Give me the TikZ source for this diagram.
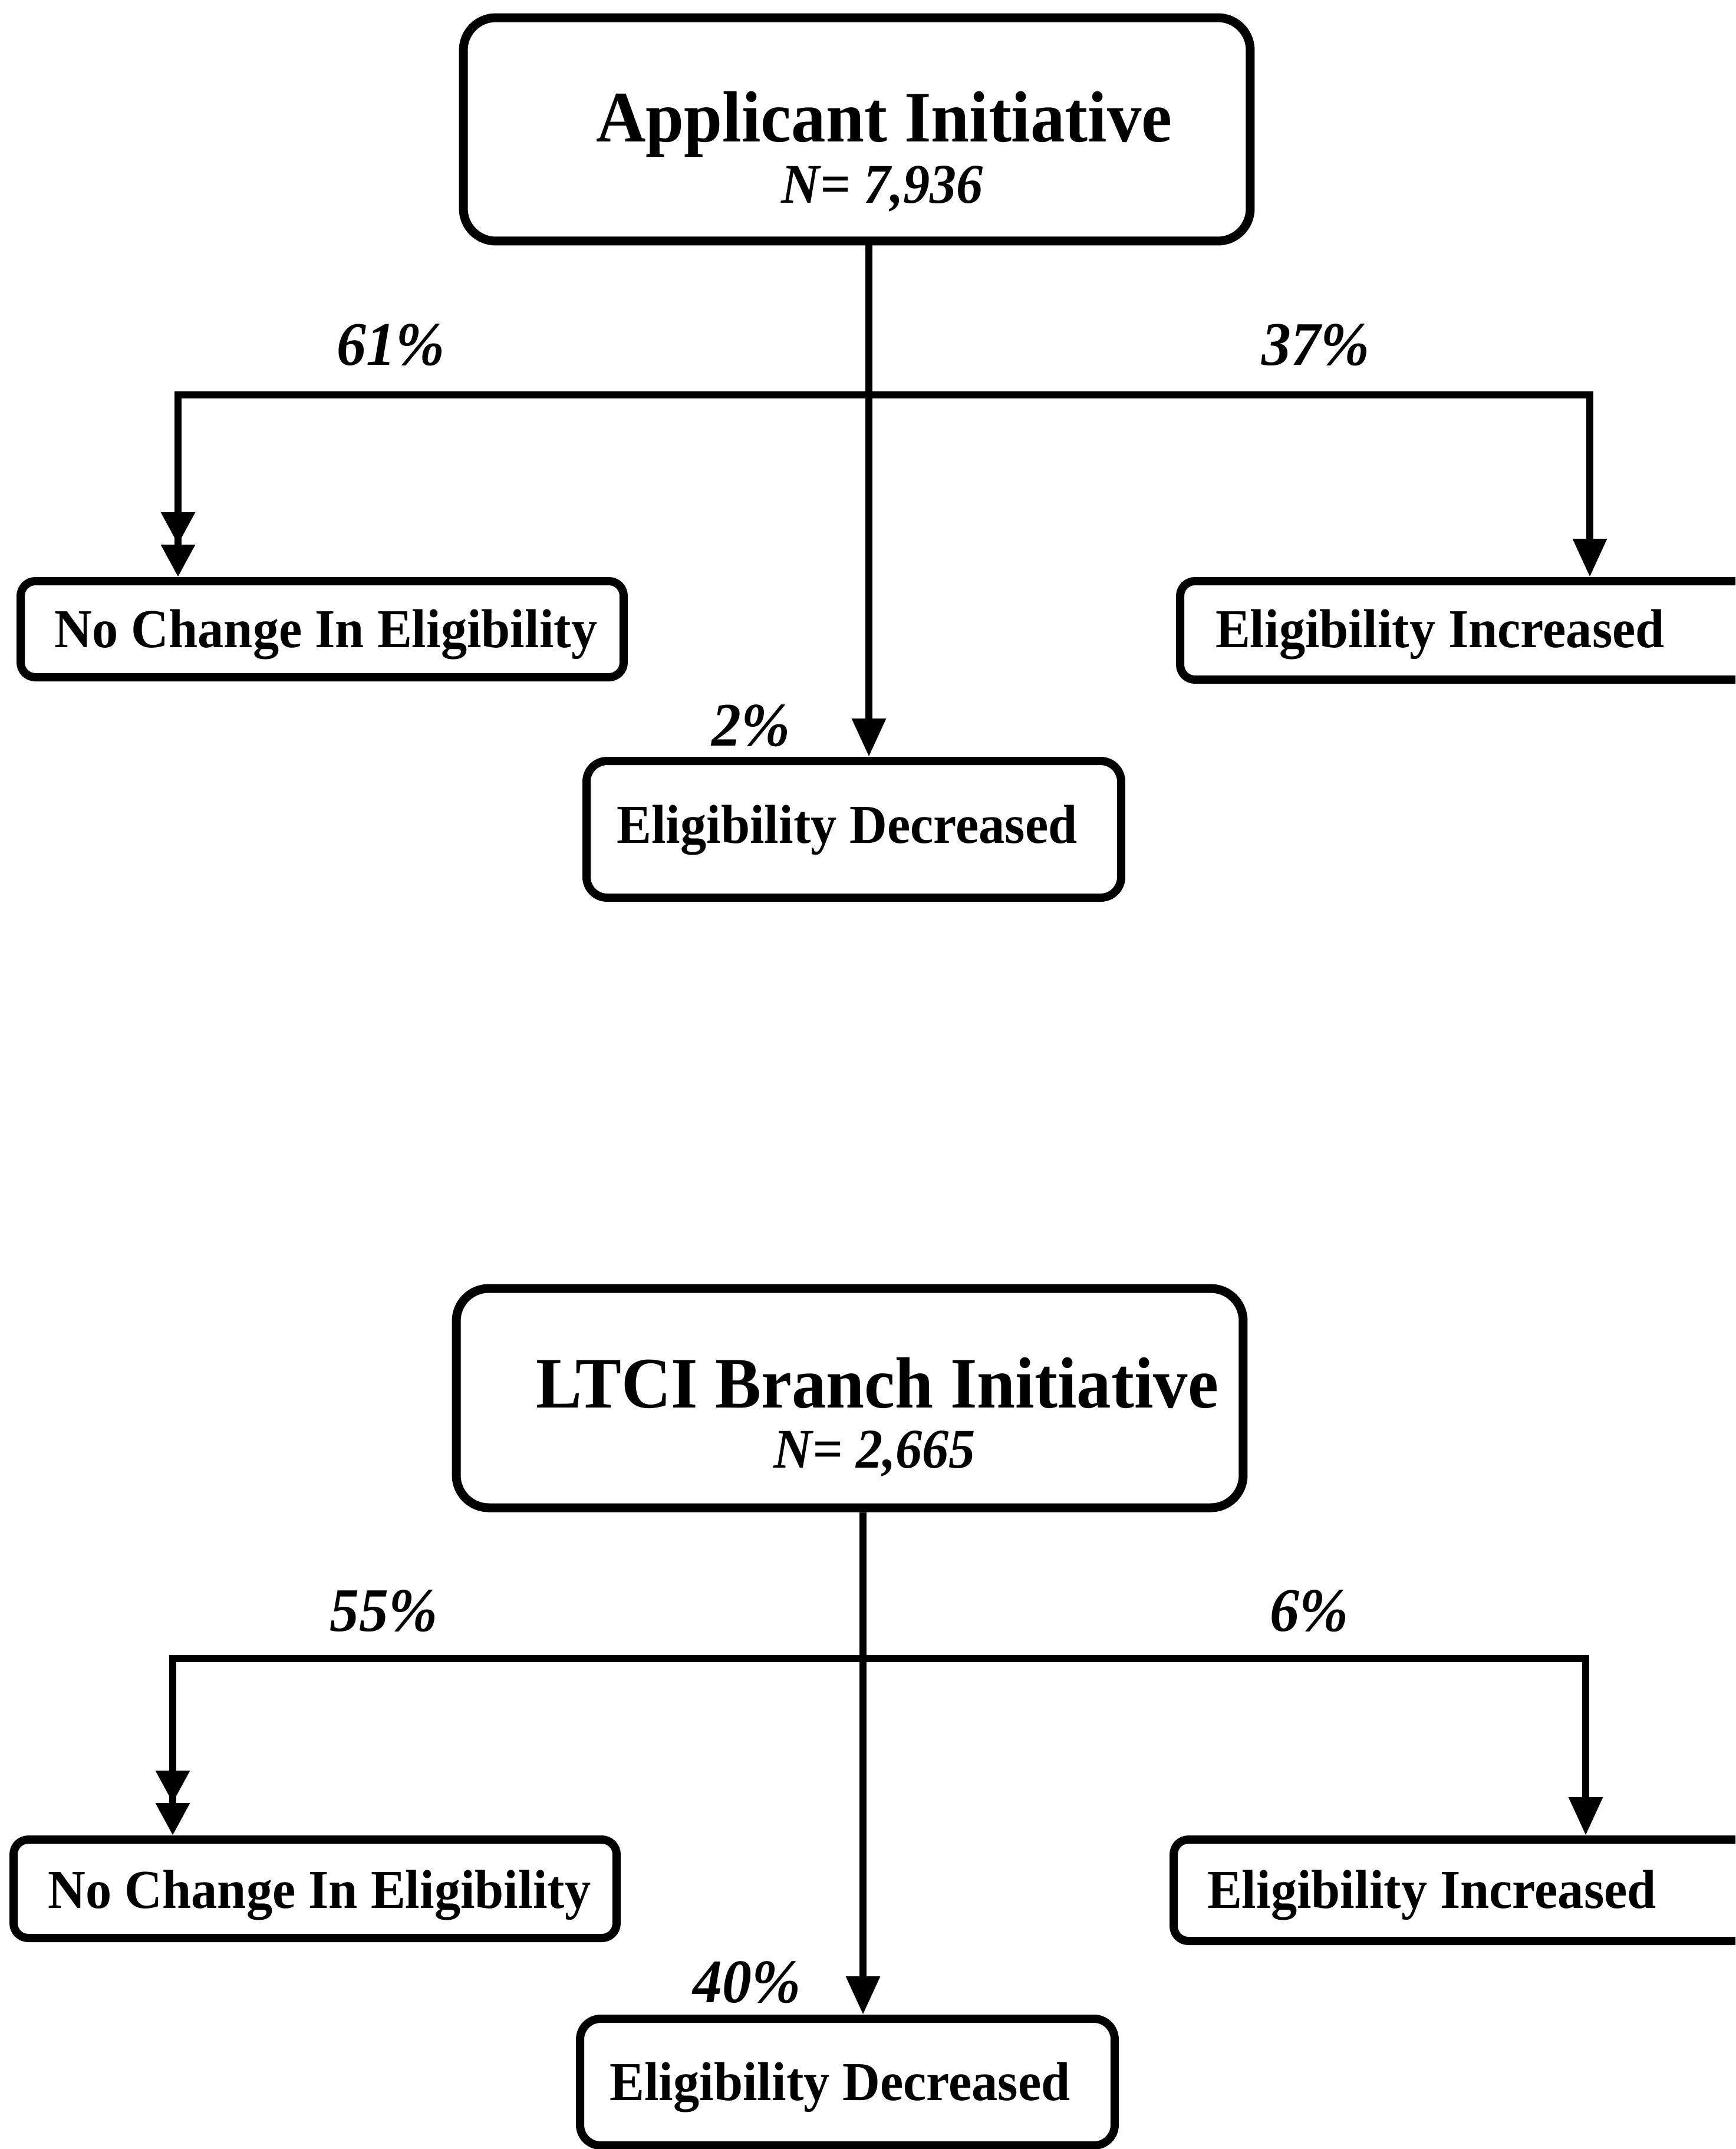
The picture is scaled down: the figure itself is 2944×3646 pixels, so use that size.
\documentclass[tikz,border=0pt]{standalone}
\usepackage{fontspec}
\setmainfont{Liberation Serif}[FakeStretch=0.95]
\usetikzlibrary{arrows.meta}
\begin{document}
\begin{tikzpicture}[x=0.1pt,y=-0.1pt,
  bigbox/.style={draw, line width=1.5pt, rounded corners=5.5pt, inner sep=0pt},
  smallbox/.style={draw, line width=1.4pt, rounded corners=2.5pt, inner sep=0pt},
  midbox/.style={draw, line width=1.4pt, rounded corners=3.5pt, inner sep=0pt},
  title/.style={font=\fontsize{12.3}{14}\selectfont\bfseries, anchor=base, inner sep=0pt},
  ntext/.style={font=\fontsize{9.5}{11}\selectfont\bfseries\itshape, anchor=base, inner sep=0pt},
  btext/.style={font=\fontsize{9.3}{11}\selectfont\bfseries, anchor=base, inner sep=0pt},
  pct/.style={font=\fontsize{10.5}{12}\selectfont\bfseries\itshape, anchor=base, inner sep=0pt},
  conn/.style={line width=1.25pt},
  tip/.style={-{Triangle[width=5.5pt,length=6.5pt]}},
  dtip/.style={-{Triangle[width=5.5pt,length=5.5pt] Triangle[width=5.5pt,length=5.5pt]}}
]
\path[use as bounding box] (0,0) rectangle (2944,3646);
\fill[white] (0,0) rectangle (2944,3646);
\clip (0,0) rectangle (2944,3646);

% ---------- top section ----------
\node[bigbox, minimum width=133.5pt, minimum height=37.9pt] (box1) at (1453.5,219.5) {};
\node[title] (t1) at (1500,240) {Applicant Initiative};
\node[ntext] (n1) at (1497,344) {N= 7,936};

\node[smallbox, minimum width=102.3pt, minimum height=16.3pt] (nc1) at (546.5,1067.5) {};
\node[btext] (nc1t) at (553,1098) {No Change In Eligibility};
\node[smallbox, minimum width=104.8pt, minimum height=16.7pt] (ei1) at (2526,1069.5) {};
\node[btext, anchor=base west] (ei1t) at (2060,1098) {Eligibility Increased};
\node[midbox, minimum width=90.7pt, minimum height=23.2pt] (ed1) at (1448.5,1407) {};
\node[btext] (ed1t) at (1437,1430) {Eligibility Decreased};

\coordinate (j1) at (1474,670);
\coordinate (l1) at (302,670);
\coordinate (r1) at (2697,670);
\draw[conn] (l1) -- (r1);
\draw[conn,tip] (j1 |- box1.south) -- (j1 |- ed1.north);
\draw[conn,dtip] (j1) -- (l1) -- (l1 |- nc1.north);
\draw[conn,tip] (j1) -- (r1) -- (r1 |- ei1.north);

\node[pct] (p61) at (663,619) {61\%};
\node[pct] (p37) at (2232,619) {37\%};
\node[pct] (p2) at (1274,1265) {2\%};

% ---------- bottom section ----------
\node[bigbox, minimum width=133.5pt, minimum height=37.2pt] (box2) at (1441.5,2372) {};
\node[title] (t2) at (1488,2388) {LTCI Branch Initiative};
\node[ntext] (n2) at (1484,2490) {N= 2,665};

\node[smallbox, minimum width=102.3pt, minimum height=16.7pt] (nc2) at (534.5,3204.5) {};
\node[btext] (nc2t) at (542,3237) {No Change In Eligibility};
\node[smallbox, minimum width=105.9pt, minimum height=17.2pt] (ei2) at (2520.5,3207) {};
\node[btext, anchor=base west] (ei2t) at (2046,3237) {Eligibility Increased};
\node[midbox, minimum width=90.7pt, minimum height=21.5pt] (ed2) at (1437.5,3532.5) {};
\node[btext] (ed2t) at (1425,3563) {Eligibility Decreased};

\coordinate (j2) at (1464,2814);
\coordinate (l2) at (293,2814);
\coordinate (r2) at (2690,2814);
\draw[conn] (l2) -- (r2);
\draw[conn,tip] (j2 |- box2.south) -- (j2 |- ed2.north);
\draw[conn,dtip] (j2) -- (l2) -- (l2 |- nc2.north);
\draw[conn,tip] (j2) -- (r2) -- (r2 |- ei2.north);

\node[pct] (p55) at (651,2767) {55\%};
\node[pct] (p6) at (2221,2767) {6\%};
\node[pct] (p40) at (1267,3397) {40\%};
\end{tikzpicture}
\end{document}
